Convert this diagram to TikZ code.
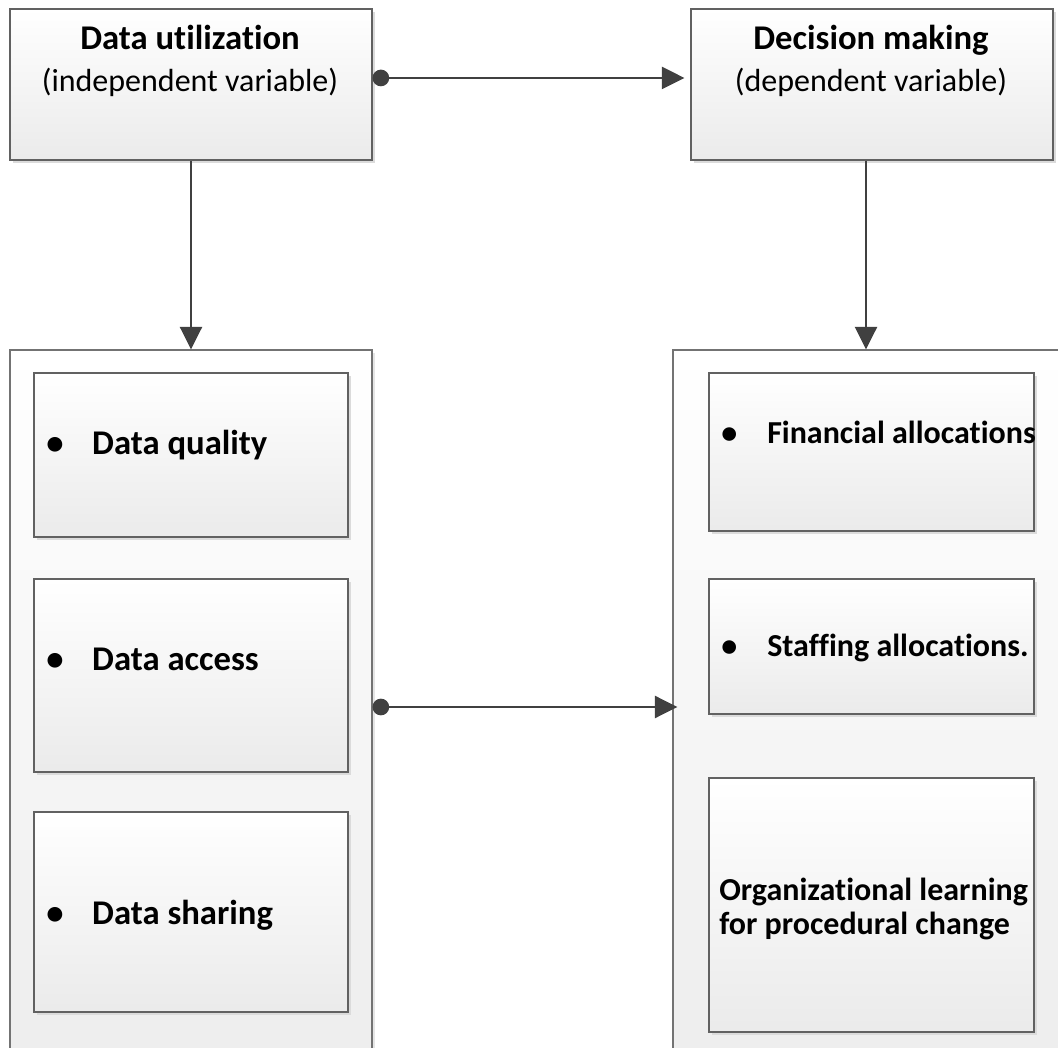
\documentclass[tikz,border=0pt]{standalone}
\usepackage{fontspec}
\setmainfont{Carlito}[Ligatures={NoCommon}]
\usetikzlibrary{arrows.meta,shadows}
\tikzset{
  boxshade/.style={draw=black!62, line width=0.8pt, top color=white, bottom color=black!8,
    drop shadow={shadow xshift=2.2pt, shadow yshift=-2.2pt, fill=black!14, opacity=1}},
  headbox/.style={boxshade, minimum width=271.5pt, minimum height=113.25pt, inner sep=0pt},
  groupbox/.style={draw=black!55, line width=0.8pt, top color=white, bottom color=black!7,
    drop shadow={shadow xshift=2pt, shadow yshift=-2pt, fill=black!10, opacity=1},
    minimum height=535.5pt, inner sep=0pt},
  itembox/.style={boxshade, inner sep=0pt},
  headtext/.style={anchor=base, align=center, inner sep=0pt, font=\fontsize{24}{32}\selectfont},
  itemtext/.style={anchor=base west, inner sep=0pt, font=\fontsize{26}{26}\selectfont\bfseries},
  rightitem/.style={itemtext, font=\fontsize{24}{25.5}\selectfont\bfseries},
  link/.style={draw=black!75, line width=2pt},
}
\newcommand{\bulletitem}[1]{\makebox[34.5pt][l]{\textbullet}#1}
\newcommand{\headline}[1]{{\fontsize{26}{26}\selectfont\bfseries #1}}
\begin{document}
\begin{tikzpicture}[x=0.75pt,y=-0.75pt]
  \useasboundingbox (0,0) rectangle (1058,1048);
  \clip (0,0) rectangle (1058,1048);
  \node[headbox] (util) at (191,84.5) {};
  \node[headbox] (decide) at (872,84.5) {};
  \node[headtext] (util-t) at (190,92) {\headline{Data utilization}\\(independent variable)};
  \node[headtext] (decide-t) at (871,92) {\headline{Decision making}\\(dependent variable)};

  \node[groupbox, minimum width=271.5pt] (leftc) at (191,707) {};
  \node[groupbox, minimum width=297.75pt] (rightc) at (871.5,707) {};

  \node[itembox, minimum width=235.5pt, minimum height=123pt] (quality) at (191,455) {};
  \node[itembox, minimum width=235.5pt, minimum height=144.75pt] (access) at (191,675.5) {};
  \node[itembox, minimum width=235.5pt, minimum height=150pt] (sharing) at (191,912) {};
  \node[itembox, minimum width=243.75pt, minimum height=118.5pt] (finance) at (871.5,452) {};
  \node[itembox, minimum width=243.75pt, minimum height=101.25pt] (staffing) at (871.5,646.5) {};
  \node[itembox, minimum width=243.75pt, minimum height=190.5pt] (learning) at (871.5,905) {};

  \node[itemtext] (quality-t) at (46,455) {\bulletitem{Data quality}};
  \node[itemtext] (access-t) at (46,671) {\bulletitem{Data access}};
  \node[itemtext] (sharing-t) at (46,924) {\bulletitem{Data sharing}};
  \node[rightitem] (finance-t) at (721,444) {\bulletitem{Financial allocations}};
  \node[rightitem] (staffing-t) at (721,657) {\bulletitem{Staffing allocations.}};
  \node[rightitem, align=left] (learning-t) at (719,934)
    {Organizational learning\\for procedural change};

  \coordinate (decide-s) at ([xshift=-4.5pt]decide.south);
  \begin{scope}[link]
    \draw[{Circle[length=12.5pt]}-{Triangle[length=17pt,width=16.5pt]}, shorten >=4.5pt]
      ([yshift=4.9pt]util.east) -- ([yshift=4.9pt]decide.west);
    \draw[-{Triangle[length=17pt,width=16.5pt]}] (util.south) -- (leftc.north);
    \draw[-{Triangle[length=17pt,width=16.5pt]}] (decide-s) -- (rightc.north -| decide-s);
    \draw[{Circle[length=12.5pt]}-{Triangle[length=17pt,width=16.5pt]}, shorten >=-3.75pt]
      (leftc.east) -- (rightc.west);
  \end{scope}
\end{tikzpicture}
\end{document}
